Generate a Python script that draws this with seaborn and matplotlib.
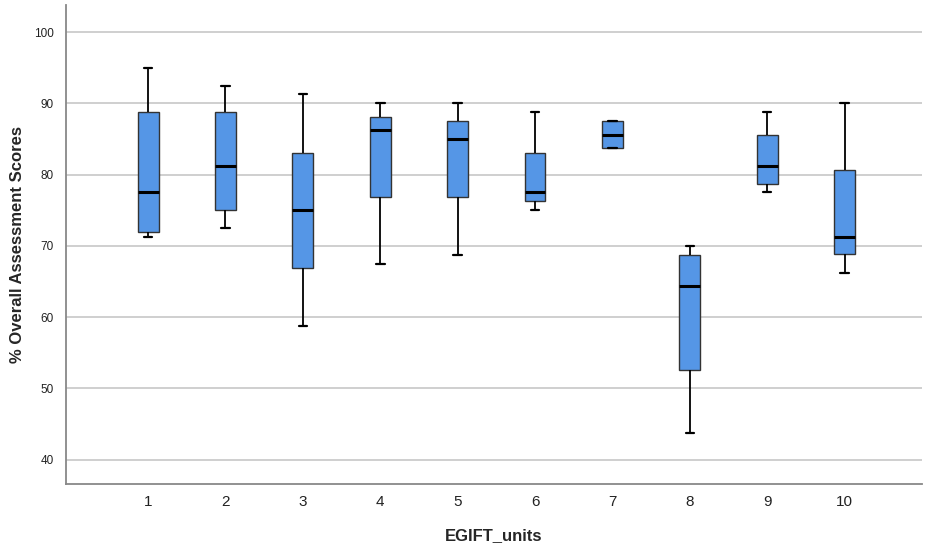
import pandas as pd
import seaborn as sns
import matplotlib.pyplot as plt

# five-number summaries: min, q1, median, q3, max
units = ['1', '2', '3', '4', '5', '6', '7', '8', '9', '10']
mins = [71.3, 72.5, 58.75, 67.5, 68.75, 75.0, 83.75, 43.8, 77.5, 66.25]
q1s = [71.9, 75.0, 66.9, 76.9, 76.9, 76.25, 83.75, 52.6, 78.75, 68.8]
medians = [77.5, 81.25, 75.0, 86.25, 85.0, 77.5, 85.6, 64.4, 81.25, 71.3]
q3s = [88.75, 88.75, 83.1, 88.1, 87.5, 83.1, 87.5, 68.75, 85.6, 80.6]
maxs = [95.0, 92.5, 91.25, 90.0, 90.0, 88.75, 87.5, 70.0, 88.75, 90.0]

rows = []
for i, u in enumerate(units):
    for v in [mins[i], q1s[i], medians[i], q3s[i], maxs[i]]:
        rows.append({'EGIFT_units': u, 'score': v})
data = pd.DataFrame(rows)

sns.set_style('white')
plt.rcParams['font.family'] = ['Liberation Sans', 'DejaVu Sans']

fig = plt.figure(figsize=(9.26, 5.48), dpi=100)
ax = fig.add_axes([0.0713, 0.1168, 0.9244, 0.8741])

sns.boxplot(data=data, x='EGIFT_units', y='score', order=units,
            whis=(0, 100), width=0.27, color='#5596E6', saturation=1,
            linecolor='#222222', linewidth=1.0,
            medianprops={'color': 'black', 'linewidth': 2.2},
            whiskerprops={'color': 'black', 'linewidth': 1.3},
            capprops={'color': 'black', 'linewidth': 1.6},
            boxprops={'edgecolor': '#333333', 'linewidth': 1.0},
            ax=ax, zorder=3)

# caps narrower than box
for line in ax.lines:
    xd = line.get_xdata()
    yd = line.get_ydata()
    if len(xd) == 2 and yd[0] == yd[1] and abs(xd[1] - xd[0]) < 0.2:
        c = (xd[0] + xd[1]) / 2
        line.set_xdata([c - 0.055, c + 0.055])

ax.set_ylim(36.6, 103.8)
ax.set_xlim(-1.06, 10.0)
ax.set_yticks([40, 50, 60, 70, 80, 90, 100])
ax.yaxis.grid(True, color='#cccccc', linewidth=1.3, zorder=0)
ax.set_axisbelow(True)
ax.tick_params(axis='y', labelsize=8.5, length=0, pad=9, colors='#222222')
ax.tick_params(axis='x', labelsize=11, length=0, pad=8, colors='#222222')

for s in ['top', 'right']:
    ax.spines[s].set_visible(False)
for s in ['left', 'bottom']:
    ax.spines[s].set_color('#888888')
    ax.spines[s].set_linewidth(1.3)

ax.set_xlabel('EGIFT_units', fontsize=12, fontweight='bold', labelpad=14)
ax.set_ylabel('% Overall Assessment Scores', fontsize=12, fontweight='bold', labelpad=6)

plt.savefig('out.png', dpi=100)
